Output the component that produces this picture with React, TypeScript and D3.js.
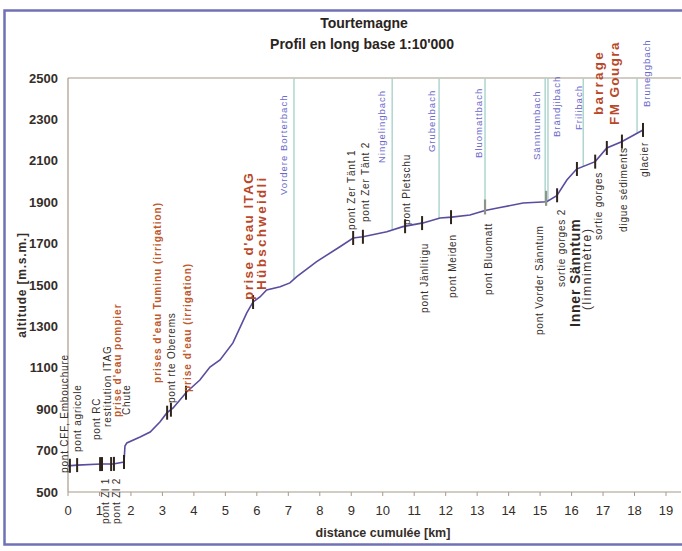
import React from "react";
import * as d3 from "d3";

// Profile (distance km, altitude m)
const PROFILE_KM = [0, 0.29, 1.05, 1.43, 1.78, 1.81, 1.87, 2.29, 2.61, 2.92, 3.14, 3.34, 3.77, 4.19, 4.51, 4.83, 5.24, 5.68, 5.88, 6.1, 6.31, 6.74, 7.05, 7.27, 7.9, 8.64, 9.06, 9.37, 10.13, 10.64, 11.28, 11.82, 12.19, 12.77, 13.25, 13.73, 14.46, 15.21, 15.53, 15.85, 16.16, 16.75, 17.12, 17.59, 18.27];
const PROFILE_ALT = [626, 630, 635, 635, 645, 722, 737, 766, 790, 838, 882, 906, 983, 1041, 1104, 1138, 1220, 1365, 1418, 1442, 1476, 1492, 1510, 1540, 1613, 1685, 1727, 1733, 1757, 1782, 1800, 1824, 1828, 1838, 1860, 1874, 1896, 1902, 1931, 2007, 2060, 2096, 2162, 2192, 2249];

// Structures (markers on the profile)
const MARKER_KM = [0.06, 0.29, 1.02, 1.08, 1.37, 1.46, 1.78, 3.15, 3.27, 3.75, 5.88, 9.06, 9.37, 10.71, 11.25, 12.17, 13.25, 15.19, 15.54, 16.17, 16.75, 17.12, 17.6, 18.27];
const MARKER_KIND = ["d", "d", "d", "d", "d", "d", "d", "d", "d", "d", "d", "d", "d", "d", "d", "d", "g", "g", "d", "d", "d", "d", "d", "d"];

// Side streams (km)
const STREAM_KM = [7.18, 10.3, 11.79, 13.25, 15.16, 15.25, 16.37, 18.08];

// Labels: text, km position, altitude where the text starts, kind
const LABEL_TEXT = [
  "pont CFF, Embouchure", "pont agricole", "pont RC", "restitution ITAG", "prise d'eau pompier", "Chute",
  "pont Zl 1", "pont Zl 2",
  "prises d'eau Tuminu (irrigation)", "pont rte Oberems", "prise d'eau (irrigation)",
  "prise d'eau ITAG", "Hübschweidli",
  "pont Zer Tänt 1", "pont Zer Tänt 2", "pont Pletschu",
  "pont Jänlitigu", "pont Meiden", "pont Bluomatt", "pont Vorder Sänntum", "sortie gorges 2",
  "Inner Sänntum", "(limnimètre)", "sortie gorges", "digue sédiments", "glacier",
  "barrage", "FM Gougra",
  "Vordere Borterbach", "Ningelingbach", "Grubenbach", "Bluomattbach", "Sänntumbach", "Brändjibach", "Frilibach", "Bruneggbach",
];
const LABEL_KM = [
  -0.12, 0.29, 0.92, 1.24, 1.56, 1.87,
  1.18, 1.53,
  2.83, 3.3, 3.81,
  5.72, 6.13,
  9.02, 9.44, 10.77,
  11.34, 12.23, 13.35, 14.97, 15.67,
  16.11, 16.49, 16.84, 17.64, 18.33,
  16.84, 17.35,
  6.86, 9.98, 11.57, 13.06, 14.9, 15.54, 16.21, 18.4,
];
const LABEL_ALT = [
  592, 693, 751, 814, 862, 872,
  345, 345,
  1027, 930, 983,
  1428, 1476,
  1766, 1804, 1790,
  1365, 1437, 1452, 1258, 1490,
  1297, 1379, 1717, 1756, 2022,
  2321, 2273,
  1935, 2089, 2142, 2114, 2104, 2215, 2249, 2360,
];
const LABEL_KIND = [
  "black", "black", "black", "black", "orange", "black",
  "black", "black",
  "orange", "black", "orange",
  "orangeBig", "orangeWide",
  "black", "black", "black",
  "black", "black", "black", "black", "black",
  "bigBlack", "paren", "black", "black", "black",
  "orangeBarrage", "orangeBig",
  "blue", "blue", "blue", "blue", "blue", "blue", "blue", "blue",
];

const Y_TICKS = [500, 700, 900, 1100, 1300, 1500, 1700, 1900, 2100, 2300, 2500];
const X_TICKS = d3.range(0, 20);

const FONT = "'Liberation Sans', Arial, sans-serif";
const NARROW = "'Liberation Sans Narrow', 'Arial Narrow', 'Liberation Sans', sans-serif";

const KIND_STYLE: Record<string, { fill: string; size: number; weight: string; ls: number }> = {
  black: { fill: "#352d28", size: 10, weight: "normal", ls: 0.8 },
  orange: { fill: "#c0582e", size: 10, weight: "bold", ls: 1.0 },
  orangeBig: { fill: "#b8482a", size: 13.5, weight: "bold", ls: 1.4 },
  orangeWide: { fill: "#b8482a", size: 13.5, weight: "bold", ls: 2.3 },
  orangeBarrage: { fill: "#b8482a", size: 13.5, weight: "bold", ls: 2.2 },
  bigBlack: { fill: "#2e2824", size: 14, weight: "bold", ls: 0.8 },
  paren: { fill: "#352d28", size: 12, weight: "normal", ls: 1.6 },
  blue: { fill: "#6a68cc", size: 9.5, weight: "normal", ls: 1.0 },
};

export default function App() {
  const W = 682, H = 551;
  const x = d3.scaleLinear().domain([0, 19]).range([68, 666]);
  const y = d3.scaleLinear().domain([500, 2500]).range([492, 78]);
  const pts = PROFILE_KM.map((k, i) => [k, PROFILE_ALT[i]] as [number, number]);
  const line = d3.line<[number, number]>().x((d) => x(d[0])).y((d) => y(d[1]));
  const interp = (km: number) => {
    const i = Math.max(1, Math.min(PROFILE_KM.length - 1, d3.bisectLeft(PROFILE_KM, km)));
    const k0 = PROFILE_KM[i - 1], k1 = PROFILE_KM[i];
    const t = (km - k0) / (k1 - k0);
    return PROFILE_ALT[i - 1] + t * (PROFILE_ALT[i] - PROFILE_ALT[i - 1]);
  };
  const xEnd = 681;

  return (
    <svg width={W} height={H} style={{ position: "absolute", left: 0, top: 0, background: "#fff" }} fontFamily={FONT}>
      <rect x={0} y={0} width={W} height={H} fill="#fff" />
      <rect x={4.5} y={10.5} width={690} height={534} fill="none" stroke="#6f72b6" strokeWidth={2.5} />

      {/* titles */}
      <text x={364} y={28} textAnchor="middle" fontWeight="bold" fontSize={14} fill="#2a2420" fontFamily={NARROW}>Tourtemagne</text>
      <text x={362} y={49} textAnchor="middle" fontWeight="bold" fontSize={14} fill="#2a2420" fontFamily={NARROW}>Profil en long base 1:10'000</text>

      {/* axes */}
      <line x1={68} x2={xEnd} y1={y(2500)} y2={y(2500)} stroke="#a89a8a" strokeWidth={1.2} />
      <line x1={68} x2={xEnd} y1={y(500)} y2={y(500)} stroke="#a89a8a" strokeWidth={1.2} />
      <line x1={68} x2={68} y1={y(500)} y2={y(2500)} stroke="#a89a8a" strokeWidth={1.2} />
      {X_TICKS.map((t) => (
        <g key={"xt" + t}>
          <line x1={x(t)} x2={x(t)} y1={y(500)} y2={y(500) + 4} stroke="#a89a8a" strokeWidth={1} />
          <text x={x(t)} y={515} textAnchor="middle" fontSize={13} fill="#352d28" fontFamily={NARROW}>{t}</text>
        </g>
      ))}
      {Y_TICKS.map((t) => (
        <text key={"yt" + t} x={58} y={y(t)} dy="0.36em" textAnchor="end" fontSize={13} fontWeight="bold" fill="#352d28" fontFamily={NARROW}>{t}</text>
      ))}
      <text x={383} y={537} textAnchor="middle" fontSize={12.5} fontWeight="bold" fill="#352d28" fontFamily={NARROW}>distance cumulée [km]</text>
      <text transform={`translate(22,${(y(500) + y(2500)) / 2}) rotate(-90)`} dy="0.35em" textAnchor="middle" fontSize={12} fontWeight="bold" fill="#352d28" letterSpacing={0.8} fontFamily={NARROW}>altitude [m.s.m.]</text>

      {/* streams */}
      {STREAM_KM.map((k, i) => (
        <line key={"s" + i} x1={x(k)} x2={x(k)} y1={y(2500)} y2={y(interp(k))} stroke="#a9d3cb" strokeWidth={1.4} />
      ))}

      {/* profile */}
      <path d={line(pts) || ""} fill="none" stroke="#5a4c9e" strokeWidth={1.6} />

      {/* markers */}
      {MARKER_KM.map((k, i) => {
        const cy = y(interp(k));
        const g = MARKER_KIND[i] === "g";
        return (
          <line key={"m" + i} x1={x(k)} x2={x(k)} y1={cy - (g ? 11 : 7)} y2={cy + (g ? 4 : 7)} stroke={g ? "#8f9486" : "#2e241c"} strokeWidth={g ? 2.2 : 2} />
        );
      })}

      {/* labels */}
      {LABEL_TEXT.map((t, i) => {
        const st = KIND_STYLE[LABEL_KIND[i]];
        return (
          <text key={"l" + i} transform={`translate(${x(LABEL_KM[i])},${y(LABEL_ALT[i])}) rotate(-90)`} dy="0.35em" textAnchor="start" fontSize={st.size} fontWeight={st.weight} fill={st.fill} letterSpacing={st.ls}>{t}</text>
        );
      })}
    </svg>
  );
}
